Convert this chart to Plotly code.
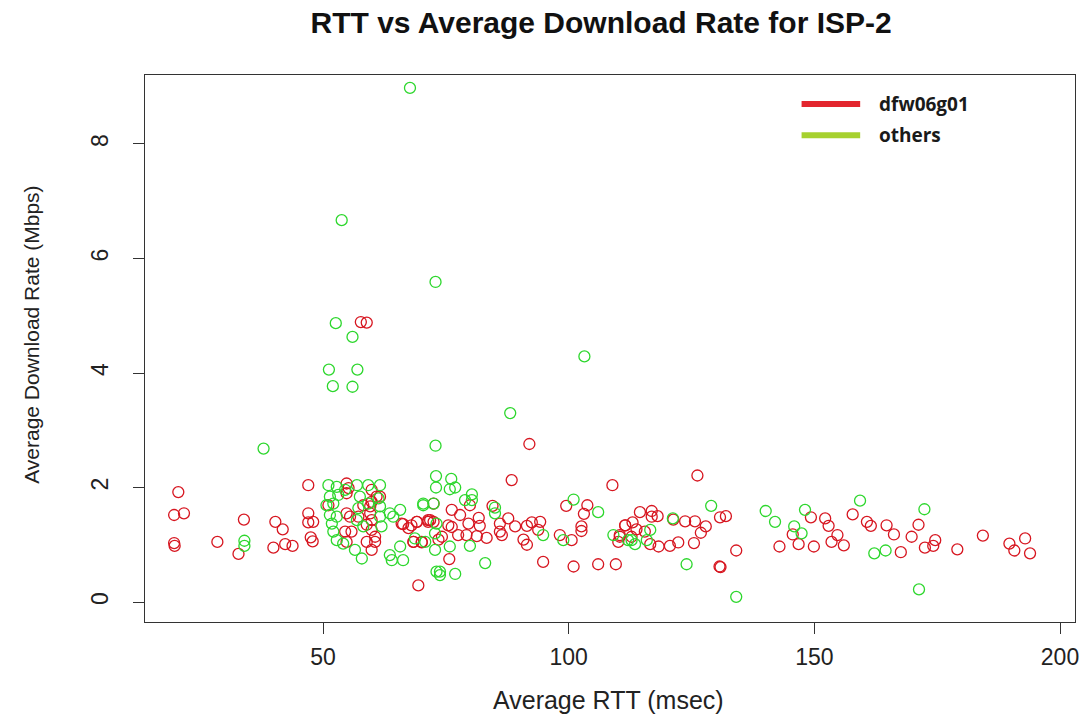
import plotly.graph_objects as go

# Average RTT (msec) and average download rate (Mbps) per session, server dfw06g01
dfw_rtt = [
    20.55, 19.7, 21.7, 19.7, 19.8, 28.5, 32.8, 33.9, 40.3, 41.8, 39.9, 42.3, 43.8,
    47.0, 47.0, 47.0, 48.0, 47.5, 47.9,
    54.8, 55.2, 54.8, 51.1, 54.8, 55.5, 54.5, 55.8, 54.8, 59.9, 60.9, 59.9, 59.6,
    59.6, 59.9, 58.9, 59.9, 60.6, 58.9, 60.6, 59.9, 61.6, 58.2, 57.2, 66.0, 67.4,
    69.1, 68.4, 70.1, 71.4, 72.5, 69.4,
    57.7, 58.9, 92.0, 88.4, 108.9, 72.5, 79.9, 76.2, 84.5, 99.5, 103.8, 103.1, 81.7,
    77.9, 87.7, 86.0, 92.5, 94.2, 89.1, 91.5, 102.6, 102.6, 71.8, 71.4, 66.3, 68.0,
    69.1, 76.2, 75.5, 79.6, 81.9, 93.8, 98.2, 100.6, 79.2, 81.3, 83.3, 77.5, 86.4,
    90.8, 91.5, 86.0, 74.2, 73.5, 68.4, 70.1, 94.8, 101.0, 106.0, 109.6, 75.7,
    110.4, 110.1, 111.5,
    126.2, 114.5, 116.9, 116.9, 118.1, 111.5, 113.0, 113.8, 115.5, 121.3, 123.7,
    125.7, 127.9, 126.9, 130.8, 132.0, 110.4, 112.8, 116.6, 118.3, 120.6, 122.3,
    125.5, 134.1, 130.7, 130.9, 149.3, 152.2, 152.9, 145.6, 142.9, 146.8, 149.9,
    154.7, 153.5, 156.0, 157.8, 160.7,
    161.5, 164.7, 166.2, 169.8, 171.2, 174.6, 174.2, 172.5, 167.6, 179.1, 184.3,
    189.7, 190.7, 192.9, 193.9,
]
dfw_rate = [
    1.92, 1.52, 1.55, 1.03, 0.98, 1.05, 0.84, 1.44, 1.40, 1.27, 0.95, 1.01, 0.98,
    2.04, 1.55, 1.39, 1.40, 1.13, 1.06,
    2.07, 1.99, 1.90, 1.69, 1.55, 1.49, 1.23, 1.23, 1.05, 1.96, 1.84, 1.75, 1.67,
    1.55, 1.43, 1.35, 1.26, 1.14, 1.05, 1.05, 0.91, 1.84, 1.69, 1.49, 1.37, 1.29,
    1.40, 1.05, 1.05, 1.43, 1.40, 0.29,
    4.89, 4.88, 2.76, 2.13, 2.04, 1.72, 1.69, 1.61, 1.68, 1.68, 1.69, 1.54, 1.47,
    1.52, 1.46, 1.37, 1.39, 1.40, 1.32, 1.33, 1.32, 1.24, 1.43, 1.40, 1.36, 1.34,
    1.40, 1.31, 1.34, 1.37, 1.33, 1.26, 1.17, 1.08, 1.17, 1.15, 1.12, 1.17, 1.17,
    1.09, 1.00, 1.23, 1.14, 1.09, 1.05, 1.04, 0.70, 0.62, 0.66, 0.66, 0.75,
    1.14, 1.05, 1.34,
    2.21, 1.57, 1.59, 1.49, 1.50, 1.34, 1.39, 1.27, 1.23, 1.44, 1.41,
    1.41, 1.32, 1.21, 1.48, 1.50, 1.17, 1.14, 1.01, 0.97, 0.98, 1.04,
    1.03, 0.90, 0.62, 0.61, 1.48, 1.46, 1.33, 1.18, 0.97, 1.01, 0.97,
    1.17, 1.05, 0.99, 1.53, 1.40,
    1.33, 1.34, 1.18, 1.14, 1.35, 1.08, 0.98, 0.95, 0.87, 0.92, 1.16,
    1.02, 0.90, 1.11, 0.85,
]

# Same measurements for all other servers
oth_rtt = [
    37.9, 34.0, 34.0,
    51.1, 52.8, 51.4, 50.7, 52.1, 53.1, 54.5, 51.4, 51.8, 52.1, 52.8, 54.1, 56.5,
    56.9, 59.2, 61.6, 57.5, 61.3, 59.2, 57.2, 61.6, 52.8, 56.9, 61.6, 58.2, 61.9,
    63.6, 65.7, 70.4, 72.5, 65.7, 63.6, 64.0, 66.3, 57.9, 68.7, 70.8, 72.8, 73.1,
    73.1,
    53.8, 72.9, 52.6, 56.0, 103.2, 51.2, 57.0, 52.0, 56.0, 88.1, 72.9, 67.7,
    73.0, 76.1, 73.0, 75.8, 76.9, 80.3, 78.9, 80.3, 70.4, 85.0, 85.0, 101.0, 106.0,
    94.8, 64.3, 79.9, 72.8, 75.8, 83.0, 73.8, 73.8, 76.9, 109.1, 112.1, 98.9,
    129.0, 116.6, 121.2, 112.8, 113.5, 115.9, 124.0, 134.1, 140.1, 142.0, 148.1,
    145.9, 147.4, 159.3, 172.4, 162.2, 164.5, 171.3,
]
oth_rate = [
    2.68, 1.07, 0.98,
    2.04, 2.01, 1.84, 1.69, 1.72, 1.87, 1.96, 1.52, 1.37, 1.23, 1.08, 1.02, 0.91,
    2.04, 2.04, 2.04, 1.84, 1.81, 1.72, 1.64, 1.67, 1.49, 1.43, 1.49, 1.32, 1.32,
    1.55, 1.61, 1.72, 1.72, 0.97, 0.82, 0.73, 0.73, 0.76, 1.11, 1.05, 1.20, 1.37,
    0.53,
    6.67, 5.59, 4.87, 4.63, 4.29, 4.06, 4.06, 3.77, 3.76, 3.30, 2.73, 8.98,
    2.20, 2.15, 2.00, 1.97, 2.00, 1.88, 1.78, 1.78, 1.69, 1.65, 1.55, 1.79, 1.57,
    1.17, 1.49, 0.98, 0.91, 0.97, 0.68, 0.53, 0.47, 0.49, 1.17, 1.08, 1.08,
    1.68, 1.26, 1.46, 1.08, 1.01, 1.08, 0.66, 0.09, 1.59, 1.40, 1.61,
    1.32, 1.20, 1.77, 1.62, 0.85, 0.90, 0.22,
]

legend_names = ["dfw06g01", "others"]
legend_colors = ["#E3262E", "#A6D12E"]

RED = "rgb(215,22,32)"
GREEN = "rgb(45,215,45)"
FONT = "Liberation Sans, Arial, sans-serif"

fig = go.Figure()
fig.add_trace(go.Scatter(
    x=dfw_rtt, y=dfw_rate, mode="markers", name=legend_names[0],
    marker=dict(symbol="circle-open", size=11, color=RED, line=dict(width=1.3, color=RED)),
    showlegend=False,
))
fig.add_trace(go.Scatter(
    x=oth_rtt, y=oth_rate, mode="markers", name=legend_names[1],
    marker=dict(symbol="circle-open", size=11, color=GREEN, line=dict(width=1.3, color=GREEN)),
    showlegend=False,
))

# Legend drawn as thick colour bars with bold labels
for i, (name, col) in enumerate(zip(legend_names, legend_colors)):
    ly = 0.947 - i * 0.057
    fig.add_shape(type="line", xref="paper", yref="paper",
                  x0=0.706, x1=0.769, y0=ly, y1=ly,
                  line=dict(color=col, width=6))
    fig.add_annotation(xref="paper", yref="paper", x=0.787, y=ly,
                       text=f"<b>{name}</b>", showarrow=False,
                       xanchor="left", yanchor="middle",
                       font=dict(family="Open Sans, sans-serif", size=19, color="#1a1a1a"))

# Axis titles placed beside the plot box
fig.add_annotation(xref="paper", yref="paper", x=0.498, y=-0.143,
                   text="Average RTT (msec)", showarrow=False,
                   xanchor="center", yanchor="middle",
                   font=dict(family=FONT, size=25, color="#222"))
fig.add_annotation(xref="paper", yref="paper", x=-0.1215, y=0.525,
                   text="Average Download Rate (Mbps)", showarrow=False,
                   textangle=-90, xanchor="center", yanchor="middle",
                   font=dict(family=FONT, size=21, color="#222"))

axis_common = dict(
    showgrid=False, zeroline=False, automargin=False,
    showline=True, linecolor="#333", linewidth=1.3, mirror=True,
    ticks="outside", ticklen=11, tickwidth=1.3, tickcolor="#333",
    tickfont=dict(family=FONT, size=23, color="#222"),
)

fig.update_layout(
    width=1087, height=714,
    margin=dict(l=145, r=12, t=75, b=92),
    plot_bgcolor="white", paper_bgcolor="white",
    title=dict(text="<b>RTT vs Average Download Rate for ISP-2</b>",
               x=0.553, xanchor="center", y=0.969, yanchor="middle",
               xref="container", yref="container",
               font=dict(family=FONT, size=30, color="#111")),
    xaxis=dict(range=[13.77, 203.05], tickvals=[50, 100, 150, 200],
               ticklabelstandoff=3, **axis_common),
    yaxis=dict(range=[-0.349, 9.205], tickvals=[0, 2, 4, 6, 8], tickangle=-90,
               ticklabelstandoff=16, **axis_common),
)

fig.write_html("out.html")
